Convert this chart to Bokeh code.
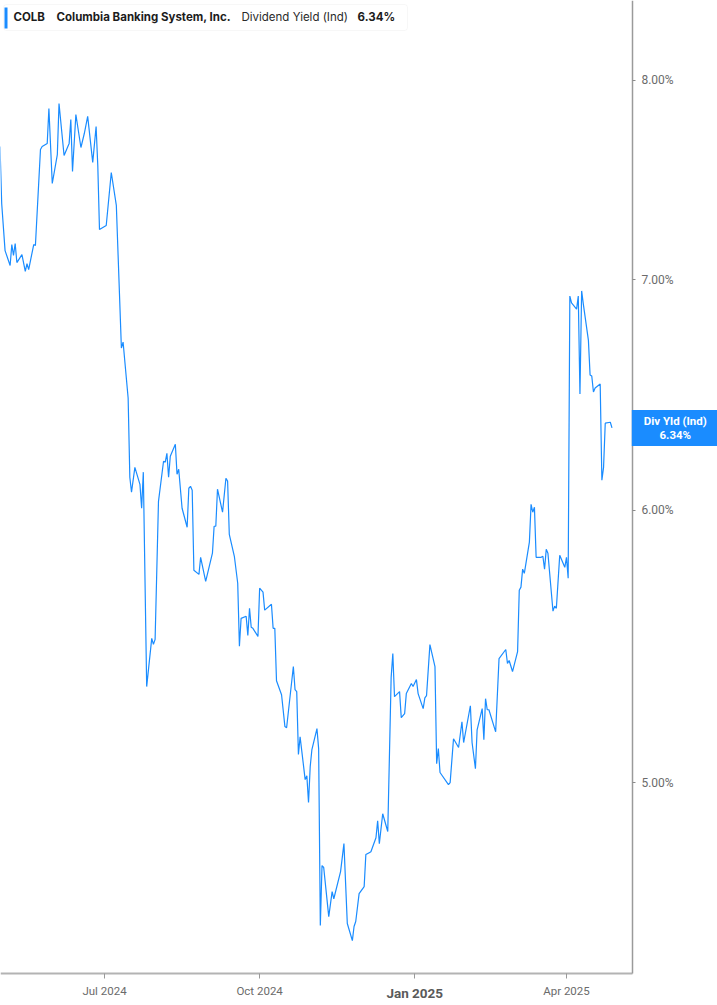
import pandas as pd
from bokeh.plotting import figure
from bokeh.models import (ColumnDataSource, Range1d, FixedTicker, PrintfTickFormatter,
                          Label, BoxAnnotation)
from bokeh.embed import file_html
from bokeh.resources import INLINE

# ---------------- data ----------------
dates = [
    "2024-04-30", "2024-05-01", "2024-05-03", "2024-05-06", "2024-05-07", "2024-05-08",
    "2024-05-09", "2024-05-10", "2024-05-13", "2024-05-15", "2024-05-16", "2024-05-17",
    "2024-05-20", "2024-05-21", "2024-05-24", "2024-05-25", "2024-05-28", "2024-05-29",
    "2024-05-31", "2024-06-03", "2024-06-04", "2024-06-07", "2024-06-10", "2024-06-11",
    "2024-06-12", "2024-06-14", "2024-06-17", "2024-06-19", "2024-06-21", "2024-06-24",
    "2024-06-26", "2024-06-27", "2024-06-28", "2024-07-02", "2024-07-05", "2024-07-08",
    "2024-07-11", "2024-07-12", "2024-07-15", "2024-07-16", "2024-07-17", "2024-07-19",
    "2024-07-22", "2024-07-23", "2024-07-24", "2024-07-26", "2024-07-29", "2024-07-30",
    "2024-07-31", "2024-08-02", "2024-08-05", "2024-08-06", "2024-08-07", "2024-08-08",
    "2024-08-09", "2024-08-12", "2024-08-13", "2024-08-14", "2024-08-16", "2024-08-19",
    "2024-08-20", "2024-08-21", "2024-08-22", "2024-08-23", "2024-08-26", "2024-08-27",
    "2024-08-30", "2024-09-03", "2024-09-04", "2024-09-05", "2024-09-06", "2024-09-09",
    "2024-09-11", "2024-09-12", "2024-09-13", "2024-09-16", "2024-09-18", "2024-09-19",
    "2024-09-20", "2024-09-23", "2024-09-24", "2024-09-25", "2024-09-26", "2024-09-27",
    "2024-09-30", "2024-10-01", "2024-10-03", "2024-10-04", "2024-10-08", "2024-10-09",
    "2024-10-10", "2024-10-11", "2024-10-14", "2024-10-16", "2024-10-17", "2024-10-21",
    "2024-10-22", "2024-10-23", "2024-10-24", "2024-10-25", "2024-10-28", "2024-10-29",
    "2024-10-30", "2024-10-31", "2024-11-01", "2024-11-04", "2024-11-05", "2024-11-06",
    "2024-11-07", "2024-11-08", "2024-11-11", "2024-11-13", "2024-11-14", "2024-11-18",
    "2024-11-20", "2024-11-22", "2024-11-25", "2024-11-26", "2024-11-27", "2024-11-29",
    "2024-12-02", "2024-12-03", "2024-12-05", "2024-12-06", "2024-12-09", "2024-12-10",
    "2024-12-11", "2024-12-13", "2024-12-16", "2024-12-18", "2024-12-19", "2024-12-20",
    "2024-12-23", "2024-12-24", "2024-12-26", "2024-12-27", "2024-12-30", "2024-12-31",
    "2025-01-02", "2025-01-03", "2025-01-06", "2025-01-07", "2025-01-08", "2025-01-10",
    "2025-01-13", "2025-01-14", "2025-01-15", "2025-01-16", "2025-01-21", "2025-01-22",
    "2025-01-24", "2025-01-27", "2025-01-29", "2025-01-30", "2025-02-03", "2025-02-04",
    "2025-02-06", "2025-02-07", "2025-02-10", "2025-02-11", "2025-02-12", "2025-02-13",
    "2025-02-14", "2025-02-18", "2025-02-20", "2025-02-24", "2025-02-25", "2025-02-26",
    "2025-02-28", "2025-03-03", "2025-03-04", "2025-03-05", "2025-03-06", "2025-03-07",
    "2025-03-10", "2025-03-11", "2025-03-12", "2025-03-13", "2025-03-14", "2025-03-17",
    "2025-03-18", "2025-03-19", "2025-03-20", "2025-03-21", "2025-03-24", "2025-03-25",
    "2025-03-26", "2025-03-28", "2025-03-31", "2025-04-01", "2025-04-02", "2025-04-03",
    "2025-04-04", "2025-04-07", "2025-04-08", "2025-04-09", "2025-04-10", "2025-04-11",
    "2025-04-14", "2025-04-15", "2025-04-16", "2025-04-17", "2025-04-18", "2025-04-21",
    "2025-04-22", "2025-04-23", "2025-04-24", "2025-04-27", "2025-04-28",
]

dividend_yield = [
    7.654, 7.368, 7.139, 7.068, 7.168, 7.116,
    7.173, 7.082, 7.120, 7.040, 7.077, 7.049,
    7.168, 7.163, 7.639, 7.654, 7.670, 7.851,
    7.467, 7.613, 7.878, 7.608, 7.670, 7.794,
    7.527, 7.820, 7.649, 7.721, 7.810, 7.573,
    7.757, 7.557, 7.240, 7.260, 7.522, 7.358,
    6.688, 6.715, 6.468, 6.134, 6.073, 6.175,
    6.105, 6.008, 6.155, 5.332, 5.507, 5.485,
    5.503, 6.036, 6.200, 6.196, 6.233, 6.134,
    6.221, 6.271, 6.146, 6.167, 6.008, 5.932,
    6.089, 6.097, 6.081, 5.764, 5.748, 5.814,
    5.721, 5.830, 5.936, 5.936, 6.085, 5.992,
    6.130, 6.118, 5.904, 5.818, 5.714, 5.478,
    5.581, 5.589, 5.518, 5.619, 5.548, 5.544,
    5.514, 5.695, 5.680, 5.612, 5.634, 5.544,
    5.544, 5.353, 5.303, 5.191, 5.187, 5.404,
    5.321, 5.314, 5.095, 5.156, 5.010, 5.023,
    4.934, 5.054, 5.112, 5.184, 5.115, 4.544,
    4.730, 4.724, 4.571, 4.648, 4.626, 4.711,
    4.800, 4.550, 4.498, 4.541, 4.556, 4.642,
    4.664, 4.765, 4.771, 4.774, 4.819, 4.874,
    4.800, 4.897, 4.839, 5.364, 5.451, 5.296,
    5.314, 5.222, 5.236, 5.307, 5.343, 5.332,
    5.357, 5.307, 5.254, 5.292, 5.300, 5.484,
    5.404, 5.064, 5.115, 5.034, 4.993, 5.000,
    5.149, 5.119, 5.208, 5.136, 5.264, 5.136,
    5.047, 5.180, 5.254, 5.146, 5.289, 5.250,
    5.250, 5.173, 5.433, 5.466, 5.415, 5.426,
    5.386, 5.458, 5.687, 5.699, 5.768, 5.752,
    5.873, 6.024, 5.992, 6.012, 5.814, 5.814,
    5.818, 5.768, 5.845, 5.830, 5.608, 5.627,
    5.619, 5.822, 5.775, 5.814, 5.733, 6.925,
    6.893, 6.865, 6.925, 6.486, 6.949, 6.888,
    6.724, 6.569, 6.564, 6.494, 6.512, 6.529,
    6.122, 6.175, 6.360, 6.364, 6.340,
]

symbol = "COLB"
company = "Columbia Banking System, Inc."
metric = "Dividend Yield (Ind)"
metric_short = "Div Yld (Ind)"

x_tick_dates = ["2024-07-01", "2024-10-01", "2025-01-01", "2025-04-01"]
x_tick_labels = ["Jul 2024", "Oct 2024", "Jan 2025", "Apr 2025"]
highlight_tick = "Jan 2025"
y_ticks = [5, 6, 7, 8]

# ---------------- styling / layout ----------------
BLUE = "#1a8cff"
W, H = 717, 1005

x_start = pd.Timestamp("2024-04-30 07:00")
x_axis_end = pd.Timestamp("2025-05-10 03:00")   # where the value axis sits
x_end = pd.Timestamp("2025-06-29 14:00")         # right edge of canvas
y_axis_low, y_high, y_low = 4.40, 8.44, 4.307


def ms(t):
    return pd.Timestamp(t).value / 1e6


src = ColumnDataSource(dict(date=pd.to_datetime(dates), value=dividend_yield))
last_value = dividend_yield[-1]

p = figure(
    width=W, height=H,
    x_axis_type="datetime", y_axis_type="log", y_axis_location="right",
    x_range=Range1d(x_start, x_end), y_range=Range1d(y_low, y_high),
    output_backend="svg", toolbar_location=None,
    min_border=0, min_border_left=0, min_border_right=0,
    min_border_top=0, min_border_bottom=0,
)
p.outline_line_color = None
p.xgrid.visible = False
p.ygrid.visible = False
p.background_fill_color = "white"
p.border_fill_color = "white"

p.line("date", "value", source=src, line_color=BLUE, line_width=1.2)

# right (value) axis
yax = p.yaxis[0]
yax.fixed_location = ms(x_axis_end)
yax.bounds = (y_axis_low, y_high)
yax.ticker = FixedTicker(ticks=y_ticks, minor_ticks=[])
yax.formatter = PrintfTickFormatter(format="%.2f%%")
yax.axis_line_color = "#9a9a9a"
yax.axis_line_width = 1.5
yax.major_tick_line_color = "#8a8a8a"
yax.major_tick_out = 3
yax.major_tick_in = 0
yax.minor_tick_out = 0
yax.minor_tick_in = 0
yax.major_label_standoff = 6
yax.major_label_text_font = "Roboto"
yax.major_label_text_font_size = "12px"
yax.major_label_text_color = "#6b6b6b"

# bottom (date) axis
tick_ms = [ms(d) for d in x_tick_dates]
xax = p.xaxis[0]
xax.fixed_location = y_axis_low
xax.bounds = (ms(x_start), ms(x_axis_end))
xax.ticker = FixedTicker(ticks=tick_ms, minor_ticks=[])
xax.major_label_overrides = {
    t: ("" if lab == highlight_tick else lab) for t, lab in zip(tick_ms, x_tick_labels)
}
xax.axis_line_color = "#b3b3b3"
xax.axis_line_width = 2
xax.major_tick_line_color = "#999999"
xax.major_tick_out = 5
xax.major_tick_in = 0
xax.minor_tick_out = 0
xax.minor_tick_in = 0
xax.major_label_standoff = 5
xax.major_label_text_font = "Roboto"
xax.major_label_text_font_size = "11.5px"
xax.major_label_text_color = "#6b6b6b"

for d, lab in zip(x_tick_dates, x_tick_labels):
    if lab == highlight_tick:
        p.add_layout(Label(x=pd.Timestamp(d), y=H - 992, y_units="screen", text=lab,
                           text_align="center", text_baseline="middle",
                           text_font="Roboto", text_font_size="13.5px",
                           text_font_style="bold", text_color="#5a5a5a"))

# legend box (top-left)
p.add_layout(BoxAnnotation(left=3, right=407, top=H - 4, bottom=H - 30,
                           left_units="screen", right_units="screen",
                           top_units="screen", bottom_units="screen",
                           fill_color="white", fill_alpha=1.0,
                           line_color="#e4e4e4", line_width=1, border_radius=3))
p.add_layout(BoxAnnotation(left=4, right=7, top=H - 7, bottom=H - 28,
                           left_units="screen", right_units="screen",
                           top_units="screen", bottom_units="screen",
                           fill_color=BLUE, fill_alpha=1.0, line_color=None))

legend_parts = [
    (13, symbol, "bold", "#1c1c1c"),
    (56, company, "bold", "#1c1c1c"),
    (241, metric, "normal", "#2a2a2a"),
    (357, f"{last_value:.2f}%", "bold", "#1c1c1c"),
]
for x, txt, style, col in legend_parts:
    p.add_layout(Label(x=x, y=H - 16.5, x_units="screen", y_units="screen",
                       text=txt, text_align="left", text_baseline="middle",
                       text_font="Inter", text_font_size="11.5px",
                       text_font_style=style, text_color=col))

# current value tag on the right axis
p.add_layout(Label(x=674.8, y=last_value,
                   x_units="screen", y_units="data",
                   text=f"{metric_short}\n{last_value:.2f}%",
                   text_align="center", text_baseline="middle",
                   text_font="Roboto", text_font_size="11.5px", text_font_style="bold",
                   text_color="white", text_line_height=1.0,
                   background_fill_color=BLUE, background_fill_alpha=1.0,
                   padding=(12, 4)))

open("out.html", "w").write(file_html(p, INLINE))
